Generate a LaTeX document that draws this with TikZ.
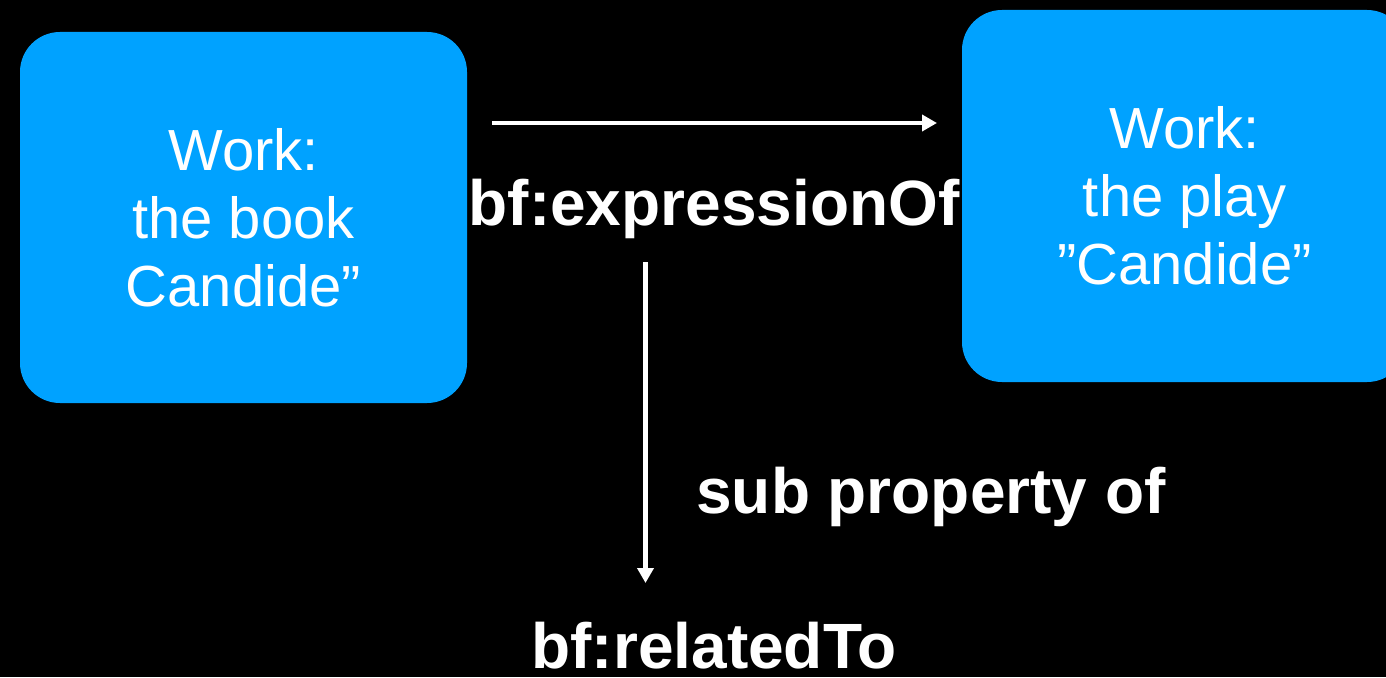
\documentclass[tikz,border=0pt]{standalone}
\usepackage{fontspec}
\setmainfont{Liberation Sans}
\usetikzlibrary{arrows.meta}
\definecolor{boxblue}{RGB}{0,162,255}
\tikzset{
  workbox/.style={fill=boxblue, draw=none, rounded corners=40pt, align=center, text=white,
    inner sep=0pt, font=\fontsize{58}{68}\selectfont},
  lbl/.style={text=white, font=\fontsize{64}{74}\selectfont\bfseries, inner sep=0pt, anchor=base},
  arr/.style={draw=white, line width=4.5pt, -{Triangle[length=15pt,width=16pt]}}
}
\begin{document}
\begin{tikzpicture}[x=1pt,y=-1pt]
\fill[black] (0,0) rectangle (1386,677);
\useasboundingbox (0,0) rectangle (1386,677);
\clip (0,0) rectangle (1386,677);
\node[workbox, minimum width=447pt, minimum height=371pt] (b1) at (243.5,217.5)
  {Work:\\the book\\Candide”};
\node[workbox, minimum width=445pt, minimum height=372pt] (b2) at (1184.5,196)
  {Work:\\the play\\”Candide”};
\node[lbl] (expr) at (714,225) {bf:expressionOf};
\node[lbl] (sub) at (931,513) {sub property of};
\node[lbl] (rel) at (714,668) {bf:relatedTo};
\coordinate (a1s) at (492,123);
\coordinate (a1e) at (937,123);
\coordinate (a2s) at (645.5,262);
\coordinate (a2e) at (645.5,583);
\draw[arr] (a1s) -- (a1e);
\draw[arr] (a2s) -- (a2e);
\end{tikzpicture}
\end{document}
